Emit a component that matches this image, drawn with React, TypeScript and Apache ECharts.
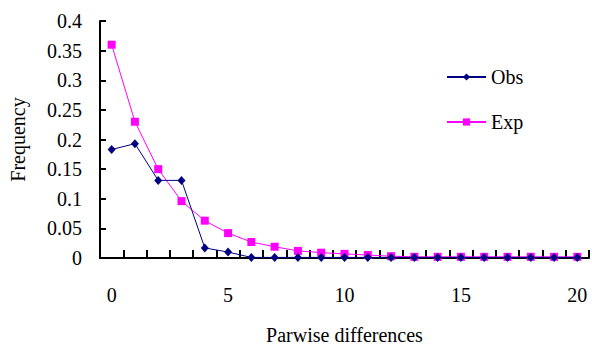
import React, { useEffect, useRef } from "react";
import * as echarts from "echarts";

const categories = Array.from({ length: 21 }, (_, i) => String(i));
const obsValues = [0.183, 0.193, 0.131, 0.131, 0.017, 0.01, 0.001, 0.001, 0.001, 0.001, 0.001, 0.001, 0.001, 0.001, 0.001, 0.001, 0.001, 0.001, 0.001, 0.001, 0.001];
const expValues = [0.36, 0.23, 0.15, 0.096, 0.063, 0.042, 0.027, 0.019, 0.012, 0.009, 0.007, 0.005, 0.003, 0.002, 0.002, 0.002, 0.002, 0.002, 0.002, 0.002, 0.002];
const yTicks = ["0", "0.05", "0.1", "0.15", "0.2", "0.25", "0.3", "0.35", "0.4"];

const FONT = "'Liberation Serif', 'Times New Roman', serif";
const FS = 20;

export default function App() {
  const ref = useRef<HTMLDivElement>(null);
  useEffect(() => {
    const chart = echarts.init(ref.current!, null, { renderer: "svg" });
    chart.setOption({
      animation: false,
      backgroundColor: "#fff",
      textStyle: { fontFamily: FONT },
      grid: { left: 100, right: 3, top: 21, bottom: 87, containLabel: false, outerBoundsMode: "none" },
      legend: {
        orient: "vertical",
        left: 441,
        top: 62,
        itemWidth: 39,
        itemHeight: 9,
        itemGap: 25,
        textStyle: { fontFamily: FONT, fontSize: FS, color: "#000" },
        data: ["Obs", "Exp"],
      },
      xAxis: {
        type: "category",
        data: categories,
        boundaryGap: true,
        name: "Parwise differences",
        nameLocation: "middle",
        nameGap: 67,
        nameTextStyle: { fontFamily: FONT, fontSize: FS, color: "#000" },
        axisLine: { lineStyle: { color: "#000", width: 2 } },
        axisTick: { show: true, inside: true, length: 8, lineStyle: { color: "#000", width: 2 } },
        axisLabel: {
          fontFamily: FONT,
          fontSize: FS,
          color: "#000",
          margin: 27,
          interval: 0,
          formatter: (v: string) => (Number(v) % 5 === 0 ? v : ""),
        },
        splitLine: { show: false },
      },
      yAxis: {
        type: "value",
        min: 0,
        max: 0.4,
        interval: 0.05,
        name: "Frequency",
        nameLocation: "middle",
        nameGap: 72,
        nameRotate: 90,
        nameTextStyle: { fontFamily: FONT, fontSize: FS, color: "#000" },
        axisLine: { show: true, lineStyle: { color: "#000", width: 2 } },
        axisTick: { show: true, inside: true, length: 6, lineStyle: { color: "#000", width: 2 } },
        axisLabel: {
          fontFamily: FONT,
          fontSize: FS,
          color: "#000",
          margin: 18,
          formatter: (v: number) => {
            const idx = Math.round(v / 0.05);
            return yTicks[idx] ?? "";
          },
        },
        splitLine: { show: false },
      },
      series: [
        {
          name: "Obs",
          type: "line",
          data: obsValues,
          symbol: "diamond",
          symbolSize: [8, 9],
          showAllSymbol: true,
          itemStyle: { color: "#000080" },
          lineStyle: { color: "#000080", width: 1 },
          z: 3,
        },
        {
          name: "Exp",
          type: "line",
          data: expValues,
          symbol: "rect",
          symbolSize: 8,
          showAllSymbol: true,
          itemStyle: { color: "#ff00ff" },
          lineStyle: { color: "#ff00ff", width: 1 },
          z: 2,
        },
      ],
    });
    return () => chart.dispose();
  }, []);
  return <div ref={ref} style={{ position: "absolute", left: 0, top: 0, width: 592, height: 345 }} />;
}
